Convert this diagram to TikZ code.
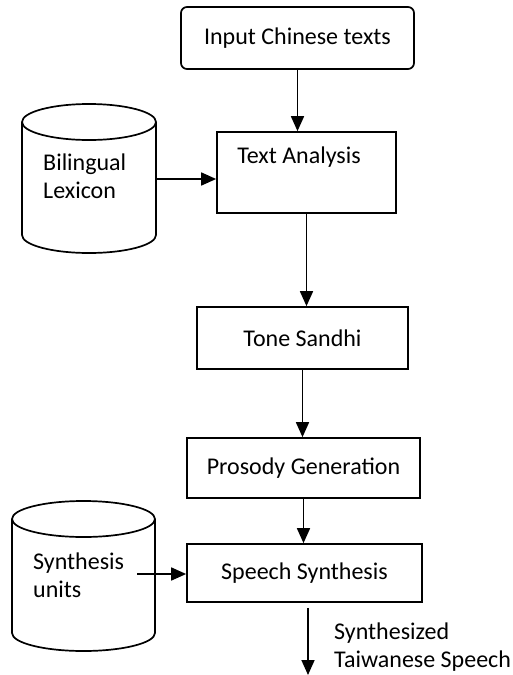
\documentclass[tikz,border=0pt]{standalone}
\usepackage{fontspec}
\setmainfont{Carlito}
\usetikzlibrary{arrows.meta,positioning,calc}
\tikzset{
  >={Triangle[length=15pt,width=13pt]},
  % boxes
  proc/.style={draw,line width=1.7pt,inner sep=0pt,font=\fontsize{24}{28}\selectfont},
  startbox/.style={proc,rounded corners=6pt},
  txt/.style={inner sep=0pt,font=\fontsize{24}{28}\selectfont,align=left},
  db/.style={draw,line width=1.7pt},
  flow/.style={->,line width=1.7pt},
}
\begin{document}
\begin{tikzpicture}[x=1pt,y=-1pt]
\useasboundingbox (0,0) rectangle (513,675);
  % main chain
  \node[startbox,minimum width=233pt,minimum height=62pt] (in) at (297.5,38) {Input Chinese texts};
  \node[proc,minimum width=179pt,minimum height=81pt] (ta) at (306.5,172.5) {};
  \node[txt] (ta-t) at (299,157) {Text Analysis};
  \node[proc,minimum width=211pt,minimum height=62pt] (ts) at (302.5,338) {Tone Sandhi};
  \node[proc,minimum width=233pt,minimum height=60pt] (pg) at (303.5,468) {Prosody Generation};
  \node[proc,minimum width=235pt,minimum height=58pt] (ss) at (304.5,573) {Speech Synthesis};
  % databases
  \draw[db] (22,122) -- (22,235) arc[start angle=180,end angle=360,x radius=67pt,y radius=18pt] -- (156,122);
  \draw[db,fill=white] (89,122) ellipse[x radius=67pt,y radius=18pt];
  \node[txt,anchor=west] (lex) at (43,176) {Bilingual\\Lexicon};
  \coordinate (lex-out) at (156,179);
  \draw[db] (12,519) -- (12,633) arc[start angle=180,end angle=360,x radius=71.5pt,y radius=18pt] -- (155,519);
  \draw[db,fill=white] (83.5,519) ellipse[x radius=71.5pt,y radius=18pt];
  \node[txt,anchor=west] (su) at (33,575) {Synthesis\\units};
  \coordinate (su-out) at (137,574);
  \coordinate (out) at (308,675);
  % arrows
  \draw[flow] (in.south) -- (in.south |- ta.north);
  \draw[flow] (lex-out) -- (lex-out -| ta.west);
  \draw[flow] (ta.south) -- (ta.south |- ts.north);
  \draw[flow] (ts.south) -- (ts.south |- pg.north);
  \draw[flow] (pg.south) -- (pg.south |- ss.north);
  \draw[flow] (su-out) -- (su-out -| ss.west);
  \draw[flow,shorten <=5pt] (out |- ss.south) -- (out);
  \node[txt,anchor=west] (res) at (334,647) {Synthesized\\Taiwanese Speech};
\end{tikzpicture}
\end{document}
